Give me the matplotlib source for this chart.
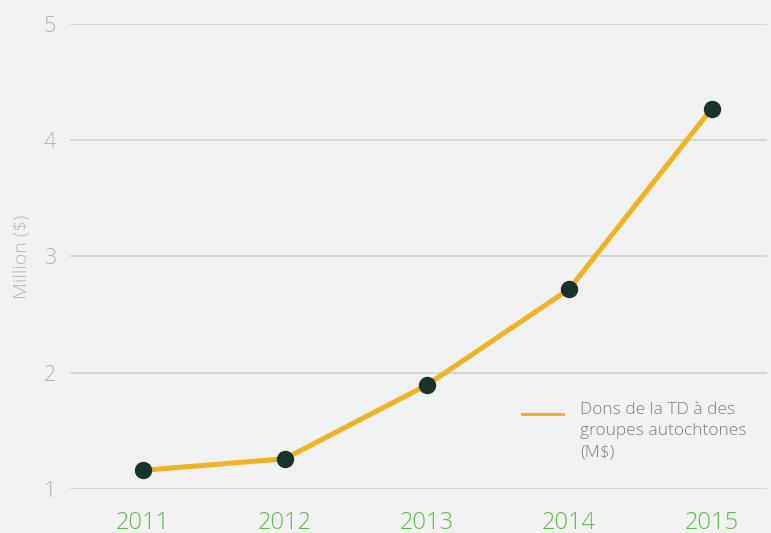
import matplotlib.pyplot as plt
from matplotlib.lines import Line2D

# donnees
annees = ['2011', '2012', '2013', '2014', '2015']
dons = [1.16, 1.26, 1.895, 2.72, 4.27]
legende = 'Dons de la TD à des\ngroupes autochtones\n(M$)'

plt.rcParams['font.family'] = ['Open Sans', 'DejaVu Sans']

fond = '#f1f1f1'
jaune = '#f0b323'
fig = plt.figure(figsize=(7.71, 5.33), dpi=100, facecolor=fond)
ax = fig.add_axes([0.0908, 0.0826, 0.904, 0.8725], facecolor=fond)

x = range(len(annees))
ax.plot(x, dons, color=jaune, linewidth=3.6, zorder=3)
ax.plot(x, dons, 'o', color='#17332a', markersize=11.5, zorder=4)

ax.set_ylim(1, 5)
ax.set_xlim(-0.51, 4.39)
ax.set_yticks([1, 2, 3, 4, 5])
ax.set_xticks(list(x))
ax.set_xticklabels(annees)

ax.grid(axis='y', color='#d2d2d2', linewidth=1.2)
ax.set_axisbelow(True)
for s in ax.spines.values():
    s.set_visible(False)

ax.tick_params(axis='y', length=0, pad=10, labelsize=15.5, labelcolor='#b4b4b4')
ax.tick_params(axis='x', length=0, pad=16, labelsize=17, labelcolor='#5cbf4c')
for t in ax.get_yticklabels() + ax.get_xticklabels():
    t.set_fontweight('light')

ax.set_ylabel('Million ($)', fontsize=14, color='#b8b8b8', fontweight='light')
ax.yaxis.set_label_coords(-0.056, 0.5)

# legende faite a la main (trait aligne sur la premiere ligne)
fig.add_artist(Line2D([522 / 771, 563 / 771], [1 - 414 / 533] * 2, color=jaune, linewidth=2.2))
fig.text(580 / 771, 1 - 402 / 533, legende, ha='left', va='top', fontsize=12.5,
         color='#808080', fontweight='light', linespacing=1.45)

fig.savefig('out.png', dpi=100, facecolor=fond)
